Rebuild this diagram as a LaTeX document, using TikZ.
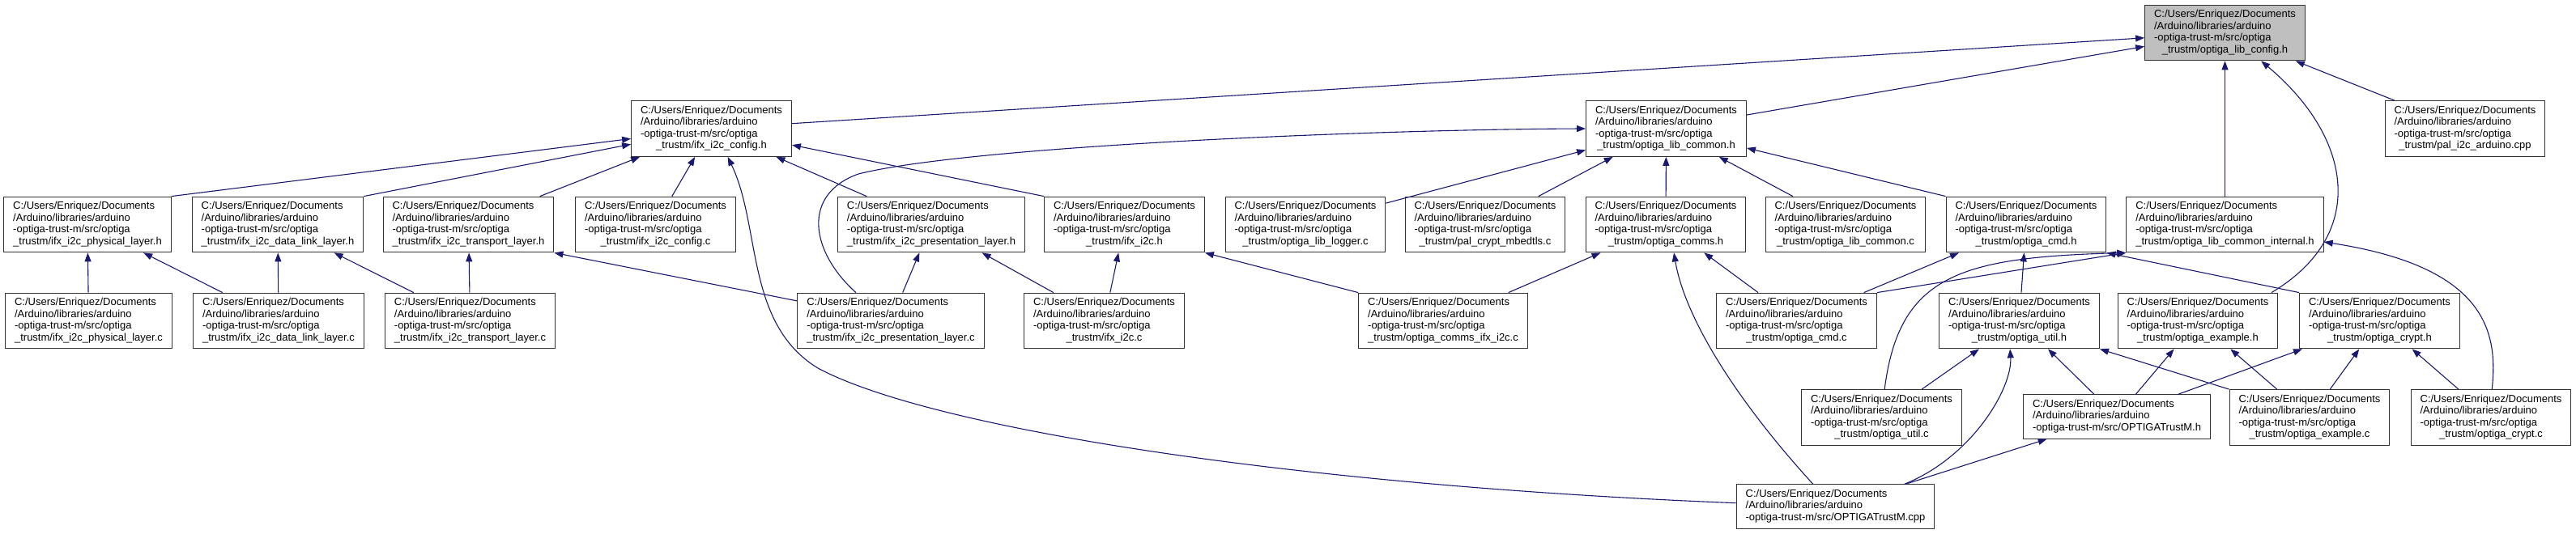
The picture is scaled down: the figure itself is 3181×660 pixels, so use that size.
\documentclass[tikz,border=0pt]{standalone}
\usepackage{fontspec}
\setmainfont{Liberation Sans}
\usetikzlibrary{arrows.meta}

\definecolor{inclblue}{HTML}{191970}
\definecolor{rootgray}{HTML}{BFBFBF}

% file label: three left-aligned path lines, last line centred
\newcommand{\srcpath}[1]{\begin{tabular}{@{}l@{}}C:/Users/Enriquez/Documents\\/Arduino/libraries/arduino\\-optiga-trust-m/src/optiga\\\multicolumn{1}{@{}c@{}}{#1}\end{tabular}}
\newcommand{\toppath}[1]{\begin{tabular}{@{}l@{}}C:/Users/Enriquez/Documents\\/Arduino/libraries/arduino\\-optiga-trust-m/src/#1\end{tabular}}

\begin{document}
\begin{tikzpicture}[x=1pt, y=-1pt,
    file/.style={draw=black!80, line width=1pt, fill=white, inner xsep=11.5pt, inner ysep=5.2pt, font=\fontsize{13}{14.6}\selectfont},
    rootfile/.style={file, fill=rootgray},
    incl/.style={draw=inclblue, line width=1.1pt, -{Triangle[length=11pt,width=8pt]}}]
    \useasboundingbox (0,0) rectangle (3181,660);

    % top
    \node[rootfile] (cfg) at (2747.5,40.5) {\srcpath{\_trustm/optiga\_lib\_config.h}};
    \node[file] (pal) at (3044,159) {\srcpath{\_trustm/pal\_i2c\_arduino.cpp}};
    \node[file] (i2ccfgh) at (878.5,159) {\srcpath{\_trustm/ifx\_i2c\_config.h}};
    \node[file] (commonh) at (2057.5,159) {\srcpath{\_trustm/optiga\_lib\_common.h}};

    % second row
    \node[file] (physh) at (108,277.5) {\srcpath{\_trustm/ifx\_i2c\_physical\_layer.h}};
    \node[file] (dlh) at (343,277.5) {\srcpath{\_trustm/ifx\_i2c\_data\_link\_layer.h}};
    \node[file] (transh) at (578.5,277.5) {\srcpath{\_trustm/ifx\_i2c\_transport\_layer.h}};
    \node[file] (i2ccfgc) at (809.5,277.5) {\srcpath{\_trustm/ifx\_i2c\_config.c}};
    \node[file] (presh) at (1150,277.5) {\srcpath{\_trustm/ifx\_i2c\_presentation\_layer.h}};
    \node[file] (i2ch) at (1388.5,277.5) {\srcpath{\_trustm/ifx\_i2c.h}};
    \node[file] (loggerc) at (1612,277.5) {\srcpath{\_trustm/optiga\_lib\_logger.c}};
    \node[file] (mbedtlsc) at (1834,277.5) {\srcpath{\_trustm/pal\_crypt\_mbedtls.c}};
    \node[file] (commsh) at (2057,277.5) {\srcpath{\_trustm/optiga\_comms.h}};
    \node[file] (commonc) at (2279,277.5) {\srcpath{\_trustm/optiga\_lib\_common.c}};
    \node[file] (cmdh) at (2502,277.5) {\srcpath{\_trustm/optiga\_cmd.h}};
    \node[file] (internalh) at (2747.5,277.5) {\srcpath{\_trustm/optiga\_lib\_common\_internal.h}};

    % third row
    \node[file] (physc) at (109.5,396.5) {\srcpath{\_trustm/ifx\_i2c\_physical\_layer.c}};
    \node[file] (dlc) at (344,396.5) {\srcpath{\_trustm/ifx\_i2c\_data\_link\_layer.c}};
    \node[file] (transc) at (580.5,396.5) {\srcpath{\_trustm/ifx\_i2c\_transport\_layer.c}};
    \node[file] (presc) at (1100,396.5) {\srcpath{\_trustm/ifx\_i2c\_presentation\_layer.c}};
    \node[file] (i2cc) at (1363.5,396.5) {\srcpath{\_trustm/ifx\_i2c.c}};
    \node[file] (commsi2cc) at (1782,396.5) {\srcpath{\_trustm/optiga\_comms\_ifx\_i2c.c}};
    \node[file] (cmdc) at (2218.5,396.5) {\srcpath{\_trustm/optiga\_cmd.c}};
    \node[file] (utilh) at (2493.5,396.5) {\srcpath{\_trustm/optiga\_util.h}};
    \node[file] (exampleh) at (2714,396.5) {\srcpath{\_trustm/optiga\_example.h}};
    \node[file] (crypth) at (2938.5,396.5) {\srcpath{\_trustm/optiga\_crypt.h}};

    % fourth row
    \node[file] (utilc) at (2323.5,516) {\srcpath{\_trustm/optiga\_util.c}};
    \node[file] (trustmh) at (2614,515) {\toppath{OPTIGATrustM.h}};
    \node[file] (examplec) at (2852,516) {\srcpath{\_trustm/optiga\_example.c}};
    \node[file] (cryptc) at (3076,516) {\srcpath{\_trustm/optiga\_crypt.c}};

    % bottom
    \node[file] (trustmcpp) at (2266.5,626) {\toppath{OPTIGATrustM.cpp}};

    % includes of optiga_lib_config.h
    \draw[incl] (i2ccfgh) -- (cfg);
    \draw[incl] (commonh) -- (cfg);
    \draw[incl] (pal) -- (cfg);
    \draw[incl] (internalh) -- (cfg);
    \draw[incl] (exampleh.21) .. controls (2925,290) and (2905,170) .. (cfg.-38);

    % includes of ifx_i2c_config.h
    \draw[incl] (physh.north east) -- (i2ccfgh);
    \draw[incl] (dlh.north east) -- (i2ccfgh);
    \draw[incl] (transh) -- (i2ccfgh);
    \draw[incl] (i2ccfgc) -- (i2ccfgh);
    \draw[incl] (presh) -- (i2ccfgh);
    \draw[incl] (i2ch.north west) -- (i2ccfgh);
    \draw[incl] (trustmcpp.178) .. controls (1600,600) and (1150,530) .. (1010,455)
        .. controls (920,400) and (940,280) .. (i2ccfgh.-60);

    % includes of optiga_lib_common.h
    \draw[incl] (presc.141) .. controls (1000,310) and (990,240) .. (1060,215)
        .. controls (1200,180) and (1700,160) .. (commonh.west);
    \draw[incl] (loggerc) -- (commonh);
    \draw[incl] (mbedtlsc) -- (commonh);
    \draw[incl] (commsh) -- (commonh);
    \draw[incl] (commonc) -- (commonh);
    \draw[incl] (cmdh.north west) -- (commonh);

    % i2c layers
    \draw[incl] (physc) -- (physh);
    \draw[incl] (dlc) -- (physh);
    \draw[incl] (dlc) -- (dlh);
    \draw[incl] (transc) -- (dlh);
    \draw[incl] (transc) -- (transh);
    \draw[incl] (presc.168) -- (transh.south east);
    \draw[incl] (presc) -- (presh);
    \draw[incl] (i2cc) -- (presh);
    \draw[incl] (i2cc) -- (i2ch);
    \draw[incl] (commsi2cc.north west) -- (i2ch.south east);

    % comms and cmd
    \draw[incl] (commsi2cc) -- (commsh);
    \draw[incl] (cmdc) -- (commsh);
    \draw[incl] (trustmcpp.135) .. controls (2140,490) and (2080,390) .. (commsh.-74);
    \draw[incl] (cmdc) -- (cmdh);
    \draw[incl] (utilh) -- (cmdh);
    \draw[incl] (crypth.north west) -- (cmdh.south east);
    \draw[incl] (cmdc.north east) -- (internalh.south west);
    \draw[incl] (utilc.84) .. controls (2345,340) and (2420,318) .. (internalh.south west);
    \draw[incl] (cryptc.88) .. controls (3085,410) and (3070,330) .. (internalh.-10);

    % util, example, crypt
    \draw[incl] (utilc) -- (utilh);
    \draw[incl] (trustmcpp.18) .. controls (2435,565) and (2485,480) .. (utilh.-108);
    \draw[incl] (trustmh) -- (utilh);
    \draw[incl] (examplec.north west) -- (utilh.south east);
    \draw[incl] (trustmh) -- (exampleh);
    \draw[incl] (examplec) -- (exampleh);
    \draw[incl] (trustmh) -- (crypth);
    \draw[incl] (examplec) -- (crypth);
    \draw[incl] (cryptc) -- (crypth);
    \draw[incl] (trustmcpp) -- (trustmh);
\end{tikzpicture}
\end{document}
